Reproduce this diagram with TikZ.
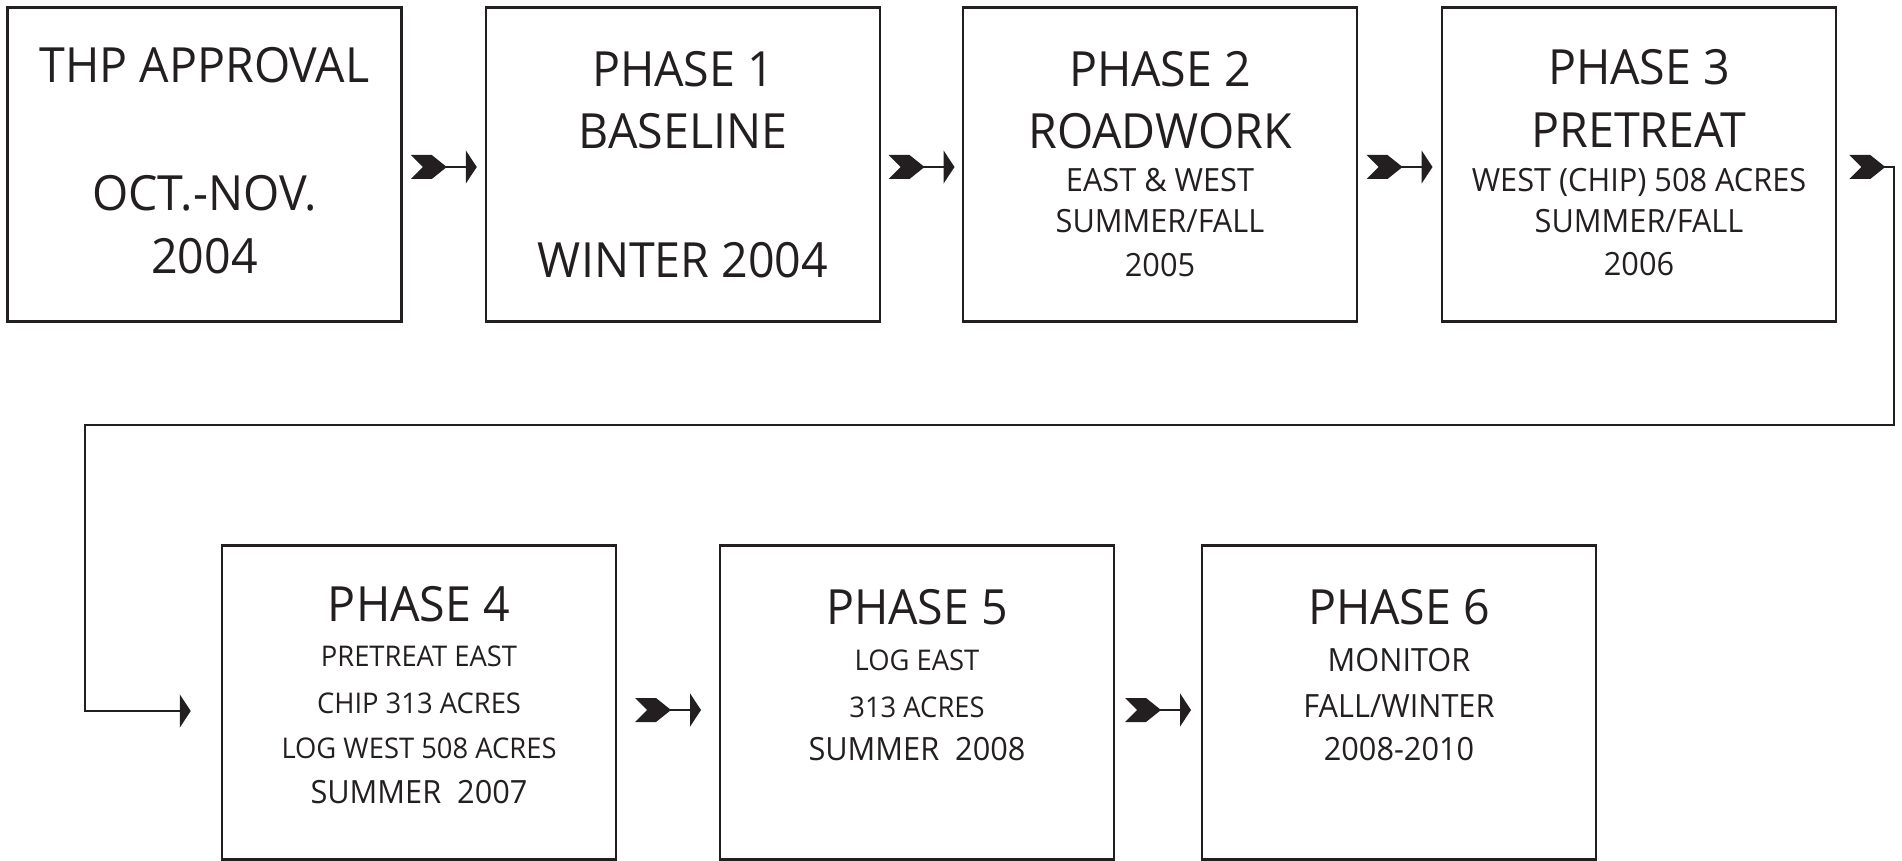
\documentclass[tikz,border=0pt]{standalone}
\usepackage{fontspec}
\setmainfont{Open Sans}[FakeStretch=0.96]
\usetikzlibrary{arrows.meta,calc}
\definecolor{ink}{HTML}{231F20}
\begin{document}
\begin{tikzpicture}[x=1pt,y=-1pt,
  stage/.style={draw=ink,line width=2.5pt,minimum width=394pt,minimum height=314pt,inner sep=0pt},
  big/.style={font=\fontsize{48.5}{58}\selectfont,text=ink,anchor=base,inner sep=0pt},
  mid/.style={font=\fontsize{32}{38}\selectfont,text=ink,anchor=base,inner sep=0pt},
  small/.style={font=\fontsize{28.5}{34}\selectfont,text=ink,anchor=base,inner sep=0pt},
  link/.style={draw=ink,line width=2pt,-{Triangle[length=11pt,width=33pt]}},
  fletch/.style={fill=ink,draw=none}
]
\useasboundingbox (0,0) rectangle (1902,861);

% top row boxes
\node[stage] (b0) at (204.5,164.5) {};
\node[stage] (b1) at (683,164.5) {};
\node[stage] (b2) at (1160,164.5) {};
\node[stage] (b3) at (1639,164.5) {};
% bottom row boxes
\node[stage] (p4) at (419,702.5) {};
\node[stage] (p5) at (917,702.5) {};
\node[stage] (p6) at (1399,702.5) {};

% texts
\node[big] (t0a) at (204.5,83) {THP APPROVAL};
\node[big] (t0b) at (204.5,210) {OCT.-NOV.};
\node[big] (t0c) at (204.5,273) {2004};

\node[big] (t1a) at (683,87) {PHASE 1};
\node[big] (t1b) at (683,149) {BASELINE};
\node[big] (t1c) at (683,277) {WINTER 2004};

\node[big] (t2a) at (1160,87) {PHASE 2};
\node[big] (t2b) at (1160,149) {ROADWORK};
\node[mid] (t2c) at (1160,192) {EAST \& WEST};
\node[mid] (t2d) at (1160,232) {SUMMER/FALL};
\node[mid] (t2e) at (1160,276) {2005};

\node[big] (t3a) at (1639,85) {PHASE 3};
\node[big] (t3b) at (1639,148) {PRETREAT};
\node[mid] (t3c) at (1639,192) {WEST (CHIP) 508 ACRES};
\node[mid] (t3d) at (1639,232) {SUMMER/FALL};
\node[mid] (t3e) at (1639,275) {2006};

\node[big] (t4a) at (419,621) {PHASE 4};
\node[small] (t4b) at (419,666) {PRETREAT EAST};
\node[small] (t4c) at (419,713) {CHIP 313 ACRES};
\node[small] (t4d) at (419,758) {LOG WEST 508 ACRES};
\node[mid] (t4e) at (419,803) {SUMMER\ \ 2007};

\node[big] (t5a) at (917,624) {PHASE 5};
\node[small] (t5b) at (917,670) {LOG EAST};
\node[small] (t5c) at (917,717) {313 ACRES};
\node[mid] (t5d) at (917,760) {SUMMER\ \ 2008};

\node[big] (t6a) at (1399,624) {PHASE 6};
\node[mid] (t6b) at (1399,671) {MONITOR};
\node[mid] (t6c) at (1399,717) {FALL/WINTER};
\node[mid] (t6d) at (1399,760) {2008-2010};

% fletched arrows between neighbours
\newcommand{\fletchedarrow}[3]{% from node, to node, y offset
  \coordinate (m) at ($(#1.east)!0.5!(#2.west)+(0,#3)$);
  \fill[fletch] ($(m)+(-33,-12)$) -- ++(21,0) -- ++(15,12) -- ++(-15,12) -- ++(-21,0) -- ++(12,-12) -- cycle;
  \draw[link] ($(m)+(-2,0)$) -- ($(#2.west)!0.5!(#1.east)+(33,#3)$);
}
\fletchedarrow{b0}{b1}{2.5}
\fletchedarrow{b1}{b2}{2.5}
\fletchedarrow{b2}{b3}{2.5}
\fletchedarrow{p4}{p5}{7.5}
\fletchedarrow{p5}{p6}{7.5}

% wrap-around connector
\coordinate (s) at ($(b3.east)+(12,2.5)$);
\fill[fletch] ($(s)+(0,-12)$) -- ++(21,0) -- ++(15,12) -- ++(-15,12) -- ++(-21,0) -- ++(12,-12) -- cycle;
\coordinate (c1) at ($(b3.east)+(57,260.5)$);
\coordinate (c2) at ($(p4.west)+(-136,-277.5)$);
\draw[link] ($(s)+(34,0)$) -| (c1) -- (c2) |- ($(p4.west)+(-30,8.5)$);
\end{tikzpicture}
\end{document}
